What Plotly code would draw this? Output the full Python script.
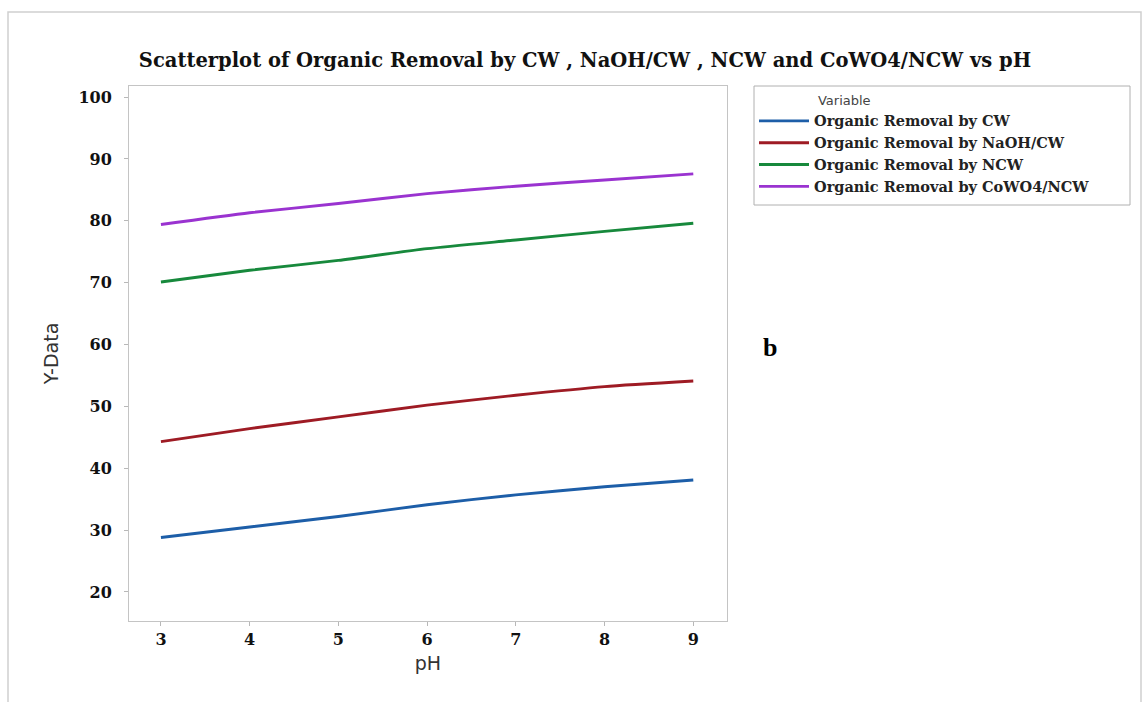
import plotly.graph_objects as go

# pH levels and organic removal (%) for each catalyst
ph = [3, 4, 5, 6, 7, 8, 9]
removal_cw = [28.8, 30.5, 32.2, 34.1, 35.7, 37.0, 38.1]
removal_naoh_cw = [44.3, 46.4, 48.3, 50.2, 51.8, 53.2, 54.1]
removal_ncw = [70.1, 72.0, 73.6, 75.5, 76.9, 78.3, 79.6]
removal_cowo4_ncw = [79.4, 81.3, 82.8, 84.4, 85.6, 86.6, 87.6]

series_names = [
    "Organic Removal by CW",
    "Organic Removal by NaOH/CW",
    "Organic Removal by NCW",
    "Organic Removal by CoWO4/NCW",
]
series_values = [removal_cw, removal_naoh_cw, removal_ncw, removal_cowo4_ncw]
series_colors = ["#1d5ea8", "#9e1b24", "#17893c", "#9a33d0"]

x_ticks = [3, 4, 5, 6, 7, 8, 9]
y_ticks = [20, 30, 40, 50, 60, 70, 80, 90, 100]

SERIF = "DejaVu Serif"
SANS = "DejaVu Sans"

fig = go.Figure()
for name, vals, col in zip(series_names, series_values, series_colors):
    fig.add_trace(go.Scatter(
        x=ph, y=vals, mode="lines", name=f"<b>{name}</b>",
        line=dict(color=col, width=2.9, shape="spline", smoothing=0.6),
    ))

# plot area in pixels: x 129..727, y 86..621
L, R, T, B = 129, 727, 86, 621
W, H = 1145, 702

def px_x(p):
    return (p - L) / (R - L)

def px_y(p):
    return (B - p) / (B - T)

axis_common = dict(
    showline=True, linecolor="#c4c4c4", linewidth=1, mirror=True,
    showgrid=False, zeroline=False,
    ticks="outside", ticklen=4, tickcolor="#b8b8b8", tickwidth=1,
    tickfont=dict(family=SERIF, size=16, color="#111111", weight="bold"),
)

fig.update_layout(
    width=W, height=H,
    margin=dict(l=L, r=W - R, t=T, b=H - B),
    paper_bgcolor="white", plot_bgcolor="white",
    title=dict(
        text="<b>Scatterplot of Organic Removal by CW , NaOH/CW , NCW and CoWO4/NCW vs pH</b>",
        font=dict(family=SERIF, size=19.5, color="#111111"),
        x=585 / W, xanchor="center", y=1 - 60 / H, yanchor="middle",
    ),
    xaxis=dict(
        range=[2.64, 9.38], tickvals=x_ticks,
        title=dict(text="pH", font=dict(family=SANS, size=19, color="#333333"), standoff=8),
        **axis_common,
    ),
    yaxis=dict(
        range=[15.3, 101.8], tickvals=y_ticks,
        title=dict(text="Y-Data", font=dict(family=SANS, size=19, color="#333333"), standoff=14),
        ticklabelstandoff=9,
        **axis_common,
    ),
    legend=dict(
        x=px_x(754), y=px_y(88), xanchor="left", yanchor="top",
        borderwidth=0, bgcolor="rgba(0,0,0,0)",
        font=dict(family=SERIF, size=14.5, color="#222222"),
        title=dict(text="\u00a0" * 15 + "Variable",
                   font=dict(family=SANS, size=13, color="#444444")),
        itemwidth=50,
    ),
    showlegend=True,
)

# outer light frame around the figure
fig.add_shape(type="rect", xref="paper", yref="paper",
              x0=px_x(8), x1=px_x(1141), y0=px_y(712), y1=px_y(12),
              line=dict(color="#d0d0d0", width=1.5), fillcolor="rgba(0,0,0,0)",
              layer="below")

# legend frame
fig.add_shape(type="rect", xref="paper", yref="paper",
              x0=px_x(754), x1=px_x(1130), y0=px_y(205), y1=px_y(86),
              line=dict(color="#b0b0b0", width=1), fillcolor="rgba(0,0,0,0)",
              layer="below")

# panel label
fig.add_annotation(text="<b>b</b>", xref="paper", yref="paper",
                   x=px_x(779), y=px_y(347), showarrow=False,
                   font=dict(family="Liberation Serif", size=26, color="#000000"))

fig.write_html("out.html")
